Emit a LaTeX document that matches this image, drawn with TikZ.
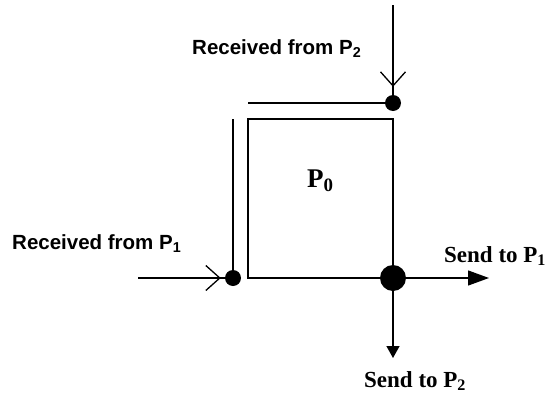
\documentclass[tikz,border=0pt]{standalone}
\usepackage{fontspec}
\setmainfont{Liberation Serif}
\newfontfamily\recvfont{Liberation Sans}
\usetikzlibrary{arrows.meta,positioning}
\tikzset{
  wire/.style={line width=1.3pt,black},
  dot/.style={circle,fill=black,inner sep=0pt,minimum size=16pt},
  bigdot/.style={circle,fill=black,inner sep=0pt,minimum size=26pt},
  proc/.style={rectangle,draw=black,line width=1.3pt,inner sep=0pt,minimum width=145pt,minimum height=159pt},
  recvarrow/.style={wire,-{Straight Barb[length=14pt,width=25pt]}},
  sendarrow/.style={wire,-{Triangle[length=21pt,width=15pt]}},
  sendarrowsmall/.style={wire,-{Triangle[length=12pt,width=13pt]}},
  recvlabel/.style={inner sep=0pt,anchor=base west,font=\recvfont\bfseries\fontsize{20.5}{24}\selectfont},
  sendlabel/.style={inner sep=0pt,anchor=base west,font=\bfseries\fontsize{23}{27}\selectfont},
  proclabel/.style={inner sep=0pt,anchor=base west,font=\bfseries\fontsize{27}{31}\selectfont}
}

\begin{document}
\begin{tikzpicture}[x=1pt,y=-1pt]
  \useasboundingbox (0,0) rectangle (550,394);

  % process box and its three dots
  \node[proc] (p0) at (320.5,198.5) {};
  \node[proclabel] (p0name) at (307,187) {P\textsubscript{0}};
  \node[dot] (inP2) at (393,103) {};
  \node[dot] (inP1) at (233,278) {};
  \node[bigdot] (out) at (393,278) {};

  % free ends of the wires
  \coordinate (fromP2) at (393,5);
  \coordinate (fromP1) at (138,278);
  \coordinate (topend) at (248,103);
  \coordinate (sideend) at (233,119);
  \coordinate (toP1) at (489,278);
  \coordinate (toP2) at (393,358);

  % incoming data
  \draw[wire] (fromP2) -- (inP2);
  \draw[recvarrow,shorten >=8pt] (fromP2) -- (inP2);
  \draw[wire] (fromP1) -- (inP1);
  \draw[recvarrow,shorten >=4pt] (fromP1) -- (inP1);
  \draw[wire] (topend) -- (inP2);
  \draw[wire] (sideend) -- (inP1);

  % outgoing data
  \draw[sendarrow] (out) -- (toP1);
  \draw[sendarrowsmall] (out) -- (toP2);

  \node[recvlabel] (recvP2) at (192,54) {Received from P\textsubscript{2}};
  \node[recvlabel] (recvP1) at (12,249) {Received from P\textsubscript{1}};
  \node[sendlabel] (sendP1) at (444,262) {Send to P\textsubscript{1}};
  \node[sendlabel] (sendP2) at (364,387) {Send to P\textsubscript{2}};
\end{tikzpicture}
\end{document}
